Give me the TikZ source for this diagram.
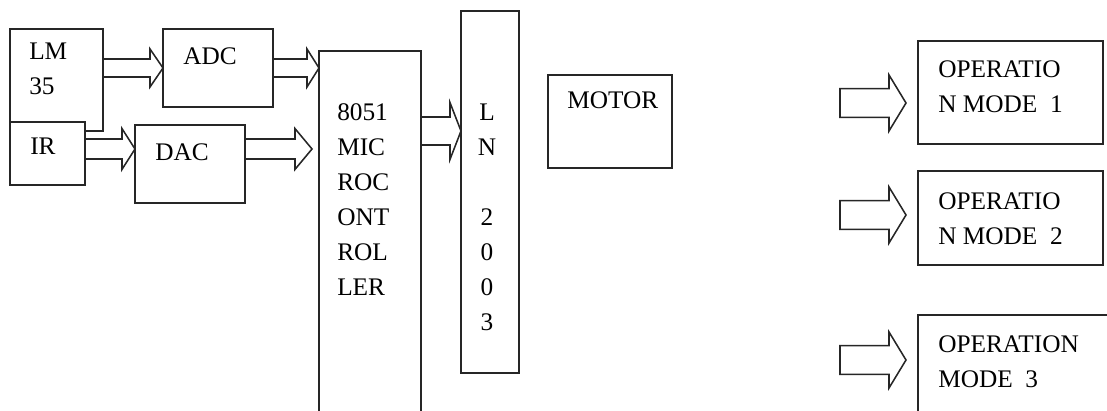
\documentclass[tikz,border=0pt]{standalone}
\usepackage{fontspec}
\setmainfont{Liberation Serif}
\usepackage{tikz}
\usetikzlibrary{calc,positioning}
\tikzset{
  blk/.style = {rectangle, draw=black!85, line width=1.1pt, fill=white,
                inner sep=0pt, outer sep=0pt, anchor=north west},
  txt/.style = {inner sep=0pt, align=left, anchor=north west,
                font=\fontsize{18}{24.9}\selectfont},
  fat/.style = {draw=black!85, line width=1.1pt, line join=miter},
}
% hollow block arrow: start, end, shaft half width, head half width, head length
\newcommand{\fatarrow}[5]{%
  \draw[fat] let \p1=#1, \p2=#2 in
    (\x1,\y1+#3) -- (\x2-#5,\y1+#3) -- (\x2-#5,\y1+#4) -- (\x2,\y1)
    -- (\x2-#5,\y1-#4) -- (\x2-#5,\y1-#3) -- (\x1,\y1-#3) -- cycle;}

\begin{document}
\begin{tikzpicture}[x=0.25mm, y=-0.25mm]
  \useasboundingbox (0,0) rectangle (1107,411);
  \clip (0,0) rectangle (1107,411);

  % sensors and converters
  \node[blk, minimum width=23.25mm, minimum height=25.5mm]  (lm)  at (10,29)  {};
  \node[blk, minimum width=18.75mm, minimum height=15.75mm] (ir)  at (10,122) {};
  \node[blk, minimum width=27.5mm,  minimum height=19.5mm]  (adc) at (163,29) {};
  \node[blk, minimum width=27.5mm,  minimum height=19.5mm]  (dac) at (135,125) {};
  \node[txt] (lmt)  at ($(lm.north west)+(19,14)$)  {LM\\35};
  \node[txt] (irt)  at ($(ir.north west)+(20,16)$)  {IR};
  \node[txt] (adct) at ($(adc.north west)+(20,18)$) {ADC};
  \node[txt] (dact) at ($(dac.north west)+(20,18)$) {DAC};

  % controller, driver, motor
  \node[blk, minimum width=25.5mm, minimum height=95mm]    (mc)    at (319,51) {};
  \node[blk, minimum width=14.5mm, minimum height=90.5mm]  (ln)    at (461,11) {};
  \node[blk, minimum width=31mm,   minimum height=23.25mm] (motor) at (548,75) {};
  \node[txt] (mct) at ($(mc.north west)+(18,52)$) {8051\\MIC\\ROC\\ONT\\ROL\\LER};
  \node[txt, anchor=north, align=center] (lnt) at ($(ln.north)+(-3,93)$)
        {L\\N\\[8.75mm]2\\0\\0\\3};
  \node[txt] (motort) at ($(motor.north west)+(19,16)$) {MOTOR};

  % operation modes
  \node[blk, minimum width=46.25mm, minimum height=25.75mm] (op1) at (918,41)  {};
  \node[blk, minimum width=46.25mm, minimum height=23.5mm]  (op2) at (918,171) {};
  \node[blk, minimum width=55mm,    minimum height=30mm]    (op3) at (918,315) {};
  \node[txt] (op1t) at ($(op1.north west)+(20,19)$) {OPERATIO\\N MODE\ \ 1};
  \node[txt] (op2t) at ($(op2.north west)+(20,21)$) {OPERATIO\\N MODE\ \ 2};
  \node[txt] (op3t) at ($(op3.north west)+(20,20)$) {OPERATION\\MODE\ \ 3};

  \coordinate (irout)  at ($(ir.north east)+(0,27)$);
  \coordinate (dacend) at ($(irout -| mc.west)+(-7,0)$);
  \coordinate (mcout)  at ($(mc.north east)+(0,80)$);
  \coordinate (in1) at (840,103);
  \coordinate (in2) at (840,215);
  \coordinate (in3) at (840,360);
  \coordinate (tip1) at ($(in1 -| op1.west)+(-12,0)$);
  \coordinate (tip2) at ($(in2 -| op2.west)+(-12,0)$);
  \coordinate (tip3) at ($(in3 -| op3.west)+(-12,0)$);

  \fatarrow{(lm.east |- adc.west)}{(adc.west)}{2.25mm}{4.75mm}{3.25mm}
  \fatarrow{(adc.east)}{(adc.east -| mc.west)}{2.25mm}{4.75mm}{3mm}
  \fatarrow{(irout)}{(irout -| dac.west)}{2.5mm}{5.1mm}{3.25mm}
  \fatarrow{(irout -| dac.east)}{(dacend)}{2.5mm}{5.1mm}{4.25mm}
  \fatarrow{(mcout)}{(mcout -| ln.west)}{3.5mm}{7.1mm}{2.75mm}
  \foreach \i in {1,2,3}{
    \fatarrow{(in\i)}{(tip\i)}{3.6mm}{7mm}{4.25mm}
  }
\end{tikzpicture}
\end{document}
